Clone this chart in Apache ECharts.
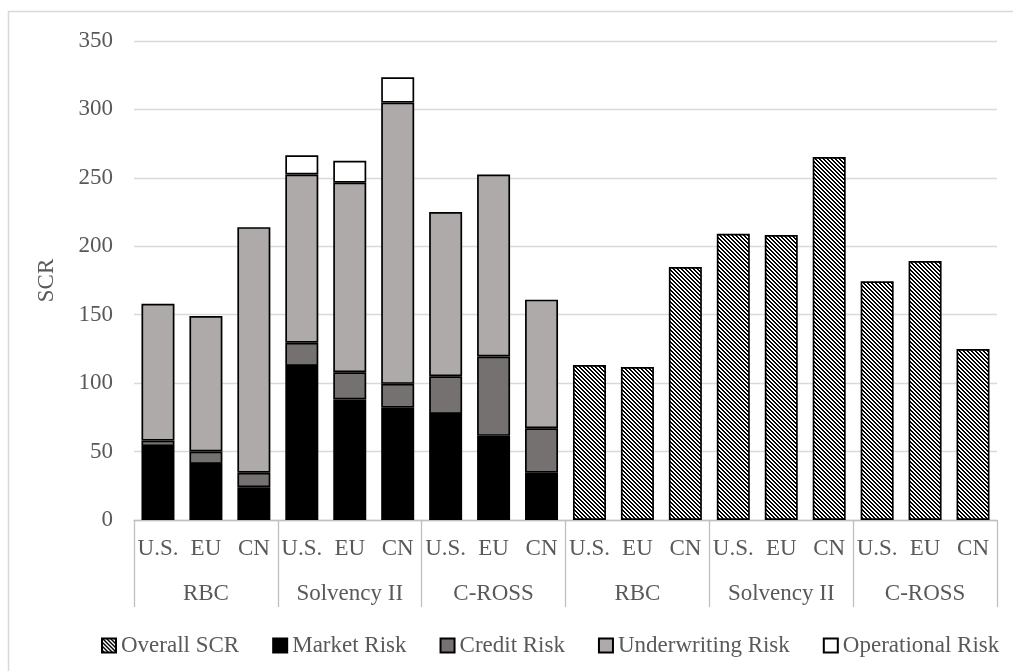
<!DOCTYPE html>
<html>
<head>
<meta charset="utf-8">
<script src="https://cdn.jsdelivr.net/npm/echarts@6/dist/echarts.min.js"></script>
<style>
html,body{margin:0;padding:0;background:#fff;}
#chart{width:1013px;height:671px;}
</style>
</head>
<body>
<div id="chart"></div>
<script>
// ---- data ----
var countries = ['U.S.','EU','CN','U.S.','EU','CN','U.S.','EU','CN','U.S.','EU','CN','U.S.','EU','CN','U.S.','EU','CN'];
var groups = ['RBC','Solvency II','C-ROSS','RBC','Solvency II','C-ROSS'];
var marketRisk = [54, 41, 24, 112.5, 88, 82, 77.5, 61.5, 34.5, '-', '-', '-', '-', '-', '-', '-', '-', '-'];
var creditRisk = [4, 9, 10.5, 17, 20, 17.5, 27.5, 58, 32.5, '-', '-', '-', '-', '-', '-', '-', '-', '-'];
var underwritingRisk = [100, 99, 179.5, 123, 138.5, 205.5, 120, 133, 94, '-', '-', '-', '-', '-', '-', '-', '-', '-'];
var operationalRisk = ['-', '-', '-', 14, 16, 18.5, '-', '-', '-', '-', '-', '-', '-', '-', '-', '-', '-', '-'];
var overallSCR = ['-', '-', '-', '-', '-', '-', '-', '-', '-', 113.3, 111.8, 184.9, 209.2, 208.2, 265.2, 174.4, 189.2, 124.9];
var yTicks = {min: 0, max: 350, interval: 50};

// ---- hatch pattern ----
function makeHatch() {
  var s = 4;
  var c = document.createElement('canvas');
  c.width = s; c.height = s;
  var ctx = c.getContext('2d');
  var img = ctx.createImageData(s, s);
  for (var y = 0; y < s; y++) {
    for (var x = 0; x < s; x++) {
      var k = ((x - y) % s + s) % s;
      var v = (k < 2) ? 0 : 255;
      var i = (y * s + x) * 4;
      img.data[i] = v; img.data[i+1] = v; img.data[i+2] = v; img.data[i+3] = 255;
    }
  }
  ctx.putImageData(img, 0, 0);
  return c;
}
var hatch = {image: makeHatch(), repeat: 'repeat'};

var FONT = "'Liberation Serif','Times New Roman',serif";
var TXT = '#595959';
var FS = 23;

var chart = echarts.init(document.getElementById('chart'), null, {renderer: 'canvas'});

function barSeries(name, data, color) {
  return {
    name: name,
    type: 'bar',
    stack: 'all',
    xAxisIndex: 0,
    barWidth: 33,
    data: data,
    itemStyle: {color: color, borderColor: '#000', borderWidth: 1.7},
    emphasis: {disabled: true}
  };
}

chart.setOption({
  animation: false,
  backgroundColor: '#fff',
  textStyle: {fontFamily: FONT},
  graphic: [{
    type: 'rect',
    shape: {x: 8.5, y: 11.5, width: 1200, height: 1000},
    style: {fill: 'none', stroke: '#d9d9d9', lineWidth: 1.5},
    silent: true, z: -10
  }],
  grid: {left: 134, right: 16, top: 41, bottom: 151, containLabel: false},
  legend: {
    left: 96,
    top: 629,
    itemWidth: 14,
    itemHeight: 14,
    itemGap: 33,
    icon: 'rect',
    textStyle: {fontFamily: FONT, fontSize: FS, color: TXT},
    data: ['Overall SCR', 'Market Risk', 'Credit Risk', 'Underwriting Risk', 'Operational Risk']
  },
  xAxis: [{
    type: 'category',
    data: countries,
    position: 'bottom',
    axisLine: {show: true, lineStyle: {color: '#bfbfbf', width: 1.3}},
    axisTick: {show: false},
    axisLabel: {interval: 0, margin: 17, fontFamily: FONT, fontSize: FS, color: TXT},
    splitLine: {show: false}
  }, {
    type: 'category',
    data: groups,
    position: 'bottom',
    offset: 0,
    axisLine: {show: false},
    axisTick: {show: true, length: 87, interval: 0, lineStyle: {color: '#bfbfbf', width: 1.3}},
    axisLabel: {interval: 0, margin: 62, fontFamily: FONT, fontSize: FS, color: TXT},
    splitLine: {show: false}
  }],
  yAxis: {
    type: 'value',
    min: yTicks.min,
    max: yTicks.max,
    interval: yTicks.interval,
    name: 'SCR',
    nameLocation: 'middle',
    nameGap: 76,
    nameTextStyle: {fontFamily: FONT, fontSize: FS, color: TXT},
    axisLine: {show: false},
    axisTick: {show: false},
    axisLabel: {margin: 21, fontFamily: FONT, fontSize: FS, color: TXT},
    splitLine: {show: true, lineStyle: {color: '#d9d9d9', width: 1.3}}
  },
  series: [
    barSeries('Overall SCR', overallSCR, hatch),
    barSeries('Market Risk', marketRisk, '#000000'),
    barSeries('Credit Risk', creditRisk, '#767171'),
    barSeries('Underwriting Risk', underwritingRisk, '#AEAAAA'),
    barSeries('Operational Risk', operationalRisk, '#ffffff')
  ]
});
</script>
</body>
</html>
